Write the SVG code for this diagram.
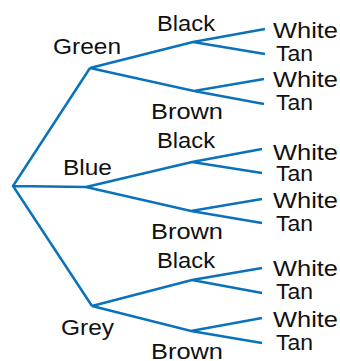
<svg xmlns="http://www.w3.org/2000/svg" width="340" height="361" viewBox="0 0 340 361">
<style>
.c{fill:none;stroke:#0a72ba;stroke-width:2.5;stroke-linejoin:miter;stroke-linecap:butt}
text{font-family:"Liberation Sans",Arial,sans-serif;font-size:22px;fill:#111}
</style>
<rect width="340" height="361" fill="#fff"/>
<g id="connectors">
<path class="c" d="M90,68 L13,186 L92,306 M13,186 L86,187"/>
<path class="c" d="M265,29 L193,42 L90,68 L194,91 L264,79 M193,42 L265,54 M194,91 L264,104"/>
<path class="c" d="M262,149 L192,162 L86,187 L191,211 L262,199 M192,162 L262,173 M191,211 L262,223"/>
<path class="c" d="M262,268 L192,280 L92,306 L191,331 L262,318 M192,280 L262,293 M191,331 L262,343"/>
</g>
<g id="green"><text x="53" y="54" textLength="68" lengthAdjust="spacingAndGlyphs">Green</text></g>
<g id="blue"><text x="63" y="175" textLength="49" lengthAdjust="spacingAndGlyphs">Blue</text></g>
<g id="grey"><text x="61" y="335" textLength="53" lengthAdjust="spacingAndGlyphs">Grey</text></g>
<g id="green-black"><text x="157" y="31" textLength="58" lengthAdjust="spacingAndGlyphs">Black</text></g>
<g id="green-brown"><text x="151" y="119" textLength="72" lengthAdjust="spacingAndGlyphs">Brown</text></g>
<g id="blue-black"><text x="157" y="148" textLength="58" lengthAdjust="spacingAndGlyphs">Black</text></g>
<g id="blue-brown"><text x="151" y="239" textLength="72" lengthAdjust="spacingAndGlyphs">Brown</text></g>
<g id="grey-black"><text x="157" y="268" textLength="58" lengthAdjust="spacingAndGlyphs">Black</text></g>
<g id="grey-brown"><text x="151" y="359" textLength="72" lengthAdjust="spacingAndGlyphs">Brown</text></g>
<g id="leaf1w"><text x="273" y="38" textLength="65" lengthAdjust="spacingAndGlyphs">White</text></g>
<g id="leaf1t"><text x="276" y="61" textLength="37" lengthAdjust="spacingAndGlyphs">Tan</text></g>
<g id="leaf2w"><text x="273" y="87" textLength="65" lengthAdjust="spacingAndGlyphs">White</text></g>
<g id="leaf2t"><text x="276" y="110" textLength="37" lengthAdjust="spacingAndGlyphs">Tan</text></g>
<g id="leaf3w"><text x="273" y="160" textLength="65" lengthAdjust="spacingAndGlyphs">White</text></g>
<g id="leaf3t"><text x="276" y="181" textLength="37" lengthAdjust="spacingAndGlyphs">Tan</text></g>
<g id="leaf4w"><text x="273" y="208" textLength="65" lengthAdjust="spacingAndGlyphs">White</text></g>
<g id="leaf4t"><text x="276" y="231" textLength="37" lengthAdjust="spacingAndGlyphs">Tan</text></g>
<g id="leaf5w"><text x="273" y="276" textLength="65" lengthAdjust="spacingAndGlyphs">White</text></g>
<g id="leaf5t"><text x="276" y="299" textLength="37" lengthAdjust="spacingAndGlyphs">Tan</text></g>
<g id="leaf6w"><text x="273" y="327" textLength="65" lengthAdjust="spacingAndGlyphs">White</text></g>
<g id="leaf6t"><text x="276" y="350" textLength="37" lengthAdjust="spacingAndGlyphs">Tan</text></g>
</svg>
